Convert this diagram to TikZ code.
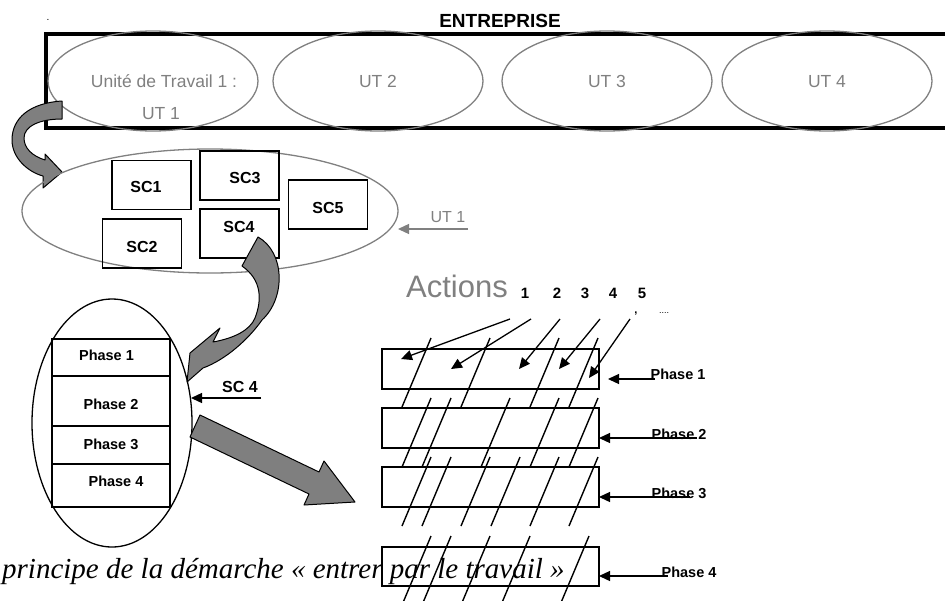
\documentclass[tikz,border=0pt]{standalone}
\usepackage{fontspec}
\setmainfont{Liberation Sans}
\newfontfamily\capfont{Liberation Serif}
\usetikzlibrary{shapes.geometric,arrows.meta}
\definecolor{ugray}{HTML}{808080}
\definecolor{afill}{HTML}{7F7F7F}
\begin{document}
\begin{tikzpicture}[x=1pt,y=-1pt,
  utell/.style={ellipse,draw=ugray,line width=1.3pt,minimum width=210pt,minimum height=100pt,inner sep=0pt},
  gtxt/.style={text=ugray,inner sep=0pt,anchor=base,font=\fontsize{17.5}{20}\selectfont},
  scbox/.style={draw,line width=1.3pt,minimum width=79pt,minimum height=49pt,inner sep=0pt},
  sctxt/.style={inner sep=0pt,anchor=base,font=\bfseries\fontsize{16}{18}\selectfont},
  rowbox/.style={draw,line width=1.3pt,minimum width=118pt,inner sep=0pt},
  phtxt/.style={inner sep=0pt,anchor=base,font=\bfseries\fontsize{14.5}{17}\selectfont},
  actbox/.style={draw,line width=1.3pt,minimum width=217pt,minimum height=40pt,inner sep=0pt},
  numtxt/.style={inner sep=0pt,anchor=base,font=\bfseries\fontsize{15}{17}\selectfont},
  arr/.style={-{Triangle[length=11pt,width=10pt]},line width=1.3pt},
  garr/.style={-{Triangle[length=11pt,width=10pt]},line width=1.3pt,draw=ugray},
  slash/.style={line width=1.4pt},
  bandarrow/.style={fill=afill,draw=black,line width=1pt,line join=round}]
\useasboundingbox (0,0) rectangle (945,600);

% caption first, so the drawing lies over it
\node[anchor=west,inner sep=0pt,font=\capfont\itshape\fontsize{29}{32}\selectfont] (caption) at (2,572)
  {principe de la démarche « entrer par le travail »};

% enterprise frame, open on the right
\node[inner sep=0pt,font=\fontsize{10}{12}\selectfont] (dot) at (48,20) {.};
\node[inner sep=0pt,anchor=base,font=\bfseries\fontsize{19}{22}\selectfont] (ent) at (500,27) {ENTREPRISE};
\draw[line width=4pt] (960,34) -- (45.5,34) -- (45.5,127.5) -- (960,127.5);

% work units
\node[utell] (ut1) at (153,81) {};
\node[utell] (ut2) at (378,81) {};
\node[utell] (ut3) at (607,81) {};
\node[utell] (ut4) at (827,81) {};
\node[gtxt] (ut1a) at (164,87) {Unité de Travail 1 :};
\node[gtxt] (ut1b) at (161,119) {UT 1};
\node[gtxt] (ut2t) at (378,87) {UT 2};
\node[gtxt] (ut3t) at (607,87) {UT 3};
\node[gtxt] (ut4t) at (827,87) {UT 4};

% curved arrow from UT 1 down to its situations
\path[bandarrow] (62,101) .. controls (30,103) and (12,118) .. (12,140)
  .. controls (12,158) and (28,172) .. (43,176)
  -- (43,188) -- (62,172) -- (45,154) -- (45,160)
  .. controls (32,156) and (24,148) .. (24,138)
  .. controls (24,126) and (40,119) .. (62,119) -- cycle;

% situations of UT 1
\node[ellipse,draw=ugray,line width=1.3pt,minimum width=376pt,minimum height=124pt,inner sep=0pt] (sce) at (210,211) {};
\node[scbox] (sc1) at (151.5,185) {};
\node[scbox] (sc3) at (239.5,175.5) {};
\node[scbox] (sc5) at (328,204.5) {};
\node[scbox] (sc2) at (142,243.5) {};
\node[scbox] (sc4) at (239.5,233.5) {};
\node[sctxt] (sc1t) at (146,192) {SC1};
\node[sctxt] (sc3t) at (245,183) {SC3};
\node[sctxt] (sc5t) at (328,213) {SC5};
\node[sctxt] (sc2t) at (142,252) {SC2};
\node[sctxt] (sc4t) at (239,232) {SC4};

\node[text=ugray,inner sep=0pt,anchor=base,font=\fontsize{16}{18}\selectfont] (ut1lab) at (448,222) {UT 1};
\coordinate (ut1s) at (468,229);
\coordinate (ut1e) at (398,229);
\draw[garr] (ut1s) -- (ut1e);

% curved arrow from SC4 to its phases
\path[bandarrow] (258,237) .. controls (285,252) and (286,298) .. (262,320)
  .. controls (248,340) and (225,360) .. (203,368)
  -- (187,382) -- (190,353) -- (220,328) -- (213,342)
  .. controls (235,338) and (250,330) .. (255,318)
  .. controls (262,300) and (262,280) .. (242,266) -- cycle;

% phases of SC4
\node[ellipse,draw,line width=1.3pt,minimum width=160pt,minimum height=248pt,inner sep=0pt] (phe) at (112,423) {};
\node[rowbox,minimum height=37pt] (p1) at (111,357.5) {};
\node[rowbox,minimum height=50pt] (p2) at (111,401) {};
\node[rowbox,minimum height=38pt] (p3) at (111,445) {};
\node[rowbox,minimum height=43pt] (p4) at (111,485.5) {};
\node[phtxt] (p1t) at (106.5,360) {Phase 1};
\node[phtxt] (p2t) at (111,409) {Phase 2};
\node[phtxt] (p3t) at (111,449) {Phase 3};
\node[phtxt] (p4t) at (116,486) {Phase 4};

\node[inner sep=0pt,anchor=base,font=\bfseries\fontsize{16}{18}\selectfont] (sc4lab) at (240,392) {SC 4};
\coordinate (sc4s) at (261,398);
\coordinate (sc4e) at (191,398);
\draw[arr] (sc4s) -- (sc4e);

% broad arrow towards the actions
\path[bandarrow] (200,415) -- (319,472) -- (324,461) -- (355,502) -- (304,505) -- (309,494) -- (190,437) -- cycle;

% actions across the phases
\node[text=ugray,inner sep=0pt,anchor=base,font=\fontsize{31}{34}\selectfont] (act) at (457,297) {Actions};
\node[numtxt] (n1) at (525,298) {1};
\node[numtxt] (n2) at (557,298) {2};
\node[numtxt] (n3) at (585,298) {3};
\node[numtxt] (n4) at (613,298) {4};
\node[numtxt] (n5) at (642,298) {5};
\node[inner sep=0pt,anchor=base,font=\bfseries\fontsize{11}{12}\selectfont] (comma) at (636,313) {,};
\node[inner sep=0pt,anchor=base,font=\fontsize{9}{10}\selectfont] (more) at (664,313) {....};

\node[actbox] (r1) at (490.5,369) {};
\node[actbox] (r2) at (490.5,428) {};
\node[actbox] (r3) at (490.5,487) {};
\node[actbox,minimum height=39pt] (r4) at (490.5,566.5) {};

\foreach \x/\y in {431/338,490/338,559/338,598/338,
                   431/398,451/398,510/398,559/398,598/398,
                   431/457,451/457,490/457,520/457,559/457,598/457,
                   431/536,451/536,490/536,530/536,589/536}
  \draw[slash] (\x,\y) -- ++(-29,69);

\coordinate (a1s) at (510,319); \coordinate (a1e) at (401,359);
\coordinate (a2s) at (531,319); \coordinate (a2e) at (451,369);
\coordinate (a3s) at (560,319); \coordinate (a3e) at (519,369);
\coordinate (a4s) at (600,319); \coordinate (a4e) at (559,369);
\coordinate (a5s) at (630,319); \coordinate (a5e) at (589,378);
\foreach \i in {1,...,5} \draw[arr] (a\i s) -- (a\i e);

% phase labels on the right
\node[phtxt] (q1) at (678,379) {Phase 1};
\node[phtxt] (q2) at (679,439) {Phase 2};
\node[phtxt] (q3) at (679,498) {Phase 3};
\node[phtxt] (q4) at (689,577) {Phase 4};
\coordinate (b1s) at (655,379); \coordinate (b1e) at (608,379);
\coordinate (b2s) at (697,438); \coordinate (b2e) at (599,438);
\coordinate (b3s) at (690,497); \coordinate (b3e) at (599,497);
\coordinate (b4s) at (668,576); \coordinate (b4e) at (599,576);
\foreach \i in {1,...,4} \draw[arr] (b\i s) -- (b\i e);
\end{tikzpicture}
\end{document}
